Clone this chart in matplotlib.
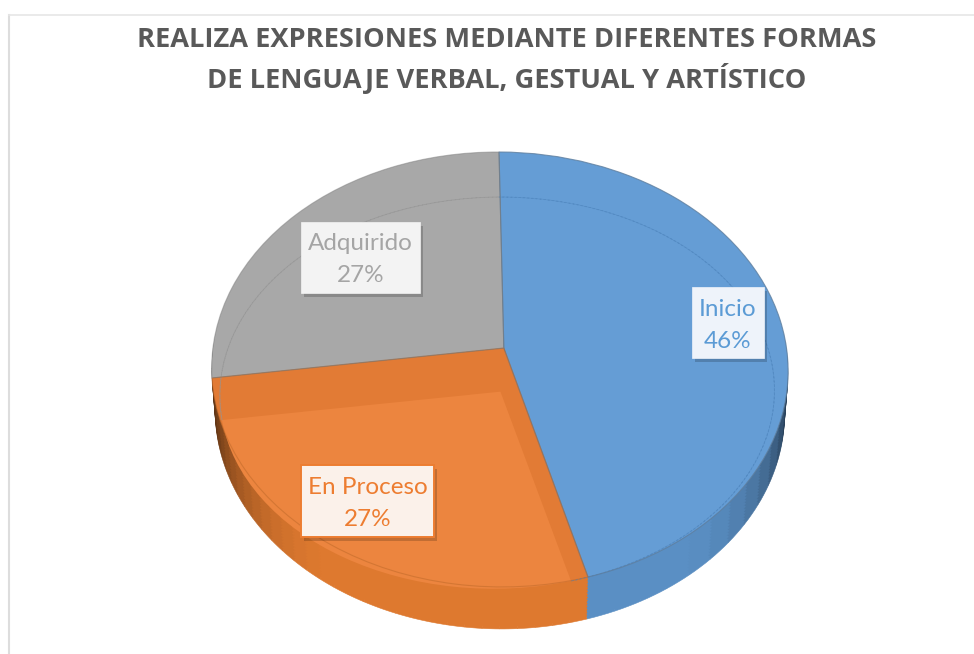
import numpy as np
import matplotlib
matplotlib.use("Agg")
import matplotlib.pyplot as plt
from matplotlib.patches import Wedge
from matplotlib.lines import Line2D
from matplotlib.transforms import Transform, Affine2D
import matplotlib.patheffects as pe
from matplotlib.colors import to_rgb

title_lines = ["REALIZA EXPRESIONES MEDIANTE DIFERENTES FORMAS",
               "DE LENGUAJE VERBAL, GESTUAL Y ARTÍSTICO"]
categories = ["Inicio", "En Proceso", "Adquirido"]
values = [46, 27, 27]
pct_labels = ["46%", "27%", "27%"]

face_colors = ["#659DD5", "#E27B35", "#A8A8A8"]
side_colors = ["#5A8FC4", "#DE792F", "#8C8C8C"]
inner_orange = "#EC853F"
label_colors = ["#5B9BD5", "#ED7D31", "#A5A5A5"]
box_colors = ["#EEF3FA", "#FBF1EA", "#F3F3F3"]


class Homography(Transform):
    input_dims = output_dims = 2
    is_affine = False
    has_inverse = False

    def __init__(self, src, dst):
        super().__init__()
        A, b = [], []
        for (u, v), (x, y) in zip(src, dst):
            A.append([u, v, 1, 0, 0, 0, -u * x, -v * x])
            A.append([0, 0, 0, u, v, 1, -u * y, -v * y])
            b += [x, y]
        self.m = np.append(np.linalg.solve(np.array(A, float), np.array(b, float)), 1).reshape(3, 3)

    def transform_non_affine(self, values):
        p = np.column_stack([values, np.ones(len(values))]) @ self.m.T
        return p[:, :2] / p[:, 2:3]


def unit(frac):
    t = 2 * np.pi * frac
    return (np.sin(t), np.cos(t))


fig = plt.figure(figsize=(9.74, 6.54), dpi=100, facecolor="white")
ax = fig.add_axes([0, 0, 1, 1])

fracs = np.cumsum(values) / np.sum(values)
rim = [(0, 1), unit(fracs[1] - 0.5), unit(fracs[0]), unit(fracs[1])]
H_top = Homography(rim, [(499, 152), (780, 319.7), (588, 577), (212, 378)])
H_in = Homography(rim, [(499, 197), (772, 364), (571, 581), (222, 420)])

wedges, _ = ax.pie(values, startangle=90, counterclock=False, colors=face_colors,
                   wedgeprops=dict(linewidth=0, zorder=3))
ax.set_aspect("auto")
ax.set_xlim(0, 974)
ax.set_ylim(654, 0)
ax.axis("off")

# side wall: stacked layers of the same slices, shaded by direction
thick = 42
bounds = 90 - 360 * np.concatenate([[0], fracs])
for dy in np.arange(thick, 0, -3):
    s = 1 - 0.012 * dy / thick
    shift = Affine2D().translate(-499, 0).scale(s, 1).translate(499, dy)
    tr = H_top + shift + ax.transData
    for i in range(3):
        edges = np.linspace(bounds[i + 1], bounds[i], 31)
        for a0, a1 in zip(edges[:-1], edges[1:]):
            mid = 0.5 * (a0 + a1)
            off = abs(((mid + 90 + 180) % 360) - 180)
            f = 1.0 if off < 35 else max(0.42, 1 - 0.58 * ((off - 35) / 45) ** 1.6)
            c = np.array(to_rgb(side_colors[i])) * f
            w = Wedge((0, 0), 1, a0, a1, facecolor=c, edgecolor=c, linewidth=0.4, zorder=1)
            ax.add_patch(w)
            w.set_transform(tr)

for w in wedges:
    w.set_transform(H_top + ax.transData)

# lighter inner face of the orange slice
inner = Wedge((0, 0), 1, bounds[2], bounds[1], facecolor=inner_orange, linewidth=0, zorder=4)
ax.add_patch(inner)
inner.set_transform(H_in + ax.transData)

# faint inner arcs on the blue and grey slices
for i, col in zip([0, 2], ["#4F86BE", "#949494"]):
    arc = Wedge((0, 0), 1, bounds[i + 1], bounds[i], width=0.0005, fill=False, edgecolor=col,
                linewidth=0.6, linestyle=(0, (3, 2)), alpha=0.7, zorder=4)
    ax.add_patch(arc)
    arc.set_transform(H_in + ax.transData)

# slice boundary lines
for w, col, a in zip(wedges, ["#5E7E9E", "#C06A2A", "#7F7F7F"], [0.8, 0.55, 0.5]):
    o = Wedge((0, 0), 1, w.theta1, w.theta2, fill=False, edgecolor=col, linewidth=0.8, alpha=a, zorder=5)
    ax.add_patch(o)
    o.set_transform(H_top + ax.transData)

# chart frame
ax.add_line(Line2D([9, 9], [15, 654], color="#DDDDDD", lw=1.5, zorder=0))
ax.add_line(Line2D([9, 974], [15, 15], color="#E6E6E6", lw=1.2, zorder=0))

ax.text(507, 40, title_lines[0], ha="center", va="center", fontsize=19.65,
        fontweight="bold", family="Open Sans", color="#595959")
ax.text(507, 79, title_lines[1], ha="center", va="center", fontsize=19.65,
        fontweight="bold", family="Open Sans", color="#595959")

boxes = [(692, 287, 764, 358), (301, 465, 434, 537), (301, 222, 420, 293)]
for i in range(3):
    x0, y0, x1, y1 = boxes[i]
    r = plt.Rectangle((x0, y0), x1 - x0, y1 - y0, facecolor=box_colors[i],
                      edgecolor=label_colors[i] if i == 1 else box_colors[i],
                      linewidth=1.4 if i == 1 else 0.5, zorder=6)
    r.set_path_effects([pe.SimplePatchShadow(offset=(2, -3), shadow_rgbFace="#000000", alpha=0.18),
                        pe.Normal()])
    ax.add_patch(r)
    cx = 0.5 * (x0 + x1)
    ax.text(cx, y0 + 22, categories[i], ha="center", va="center", fontsize=17.5,
            family="Lato", color=label_colors[i], zorder=7)
    ax.text(cx, y0 + 54, pct_labels[i], ha="center", va="center", fontsize=17.5,
            family="Lato", color=label_colors[i], zorder=7)

fig.savefig("out.png", dpi=100, facecolor="white")
